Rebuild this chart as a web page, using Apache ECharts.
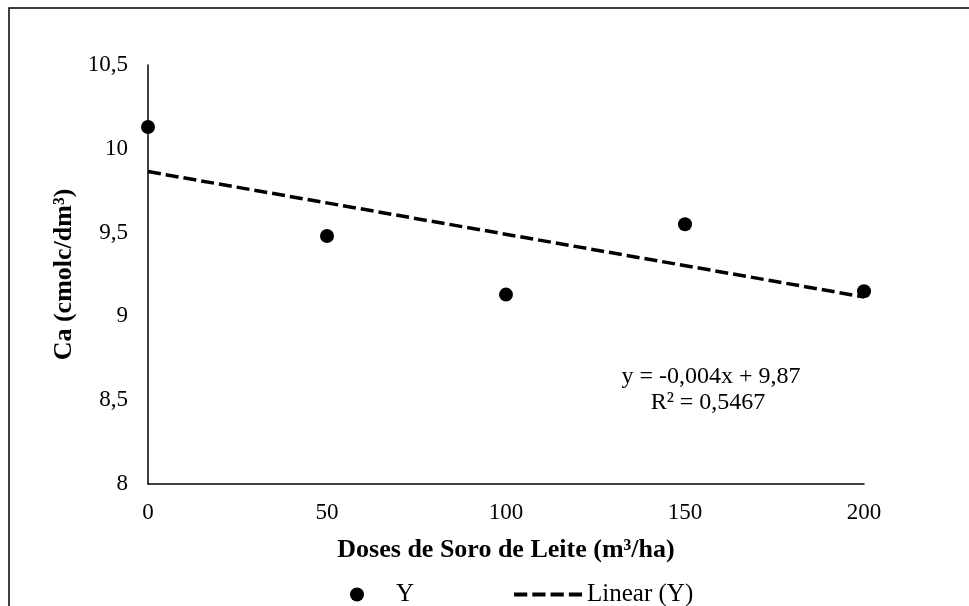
<!DOCTYPE html>
<html>
<head>
<meta charset="utf-8">
<script src="https://cdn.jsdelivr.net/npm/echarts@6/dist/echarts.min.js"></script>
<style>
html,body{margin:0;padding:0;background:#fff;}
#chart{width:969px;height:606px;}
</style>
</head>
<body>
<div id="chart"></div>
<script>
// Data
var doses = [0, 50, 100, 150, 200];
var caValues = [10.13, 9.48, 9.13, 9.55, 9.15];
var trendX = [0, 200];
var trendY = [9.864, 9.116];
var xTicks = [0, 50, 100, 150, 200];
var yTicks = [8, 8.5, 9, 9.5, 10, 10.5];
var equationLines = ['y = -0,004x + 9,87', 'R² = 0,5467'];

var FONT = '"Liberation Serif", "Times New Roman", serif';
var DASH_ICON = 'path://M0,0h13v4h-13z M18,0h13v4h-13z M36,0h13v4h-13z M54,0h13v4h-13z';

var chart = echarts.init(document.getElementById('chart'), null, {renderer: 'canvas'});

var option = {
  animation: false,
  backgroundColor: '#fff',
  grid: {left: 148, top: 65, right: 105, bottom: 122, containLabel: false},
  xAxis: {
    type: 'value',
    min: xTicks[0],
    max: xTicks[xTicks.length - 1],
    interval: 50,
    name: 'Doses de Soro de Leite (m³/ha)',
    nameLocation: 'middle',
    nameGap: 53,
    nameTextStyle: {fontFamily: FONT, fontSize: 26, fontWeight: 'bold', color: '#000'},
    axisLine: {show: true, onZero: false, lineStyle: {color: '#000', width: 1.5}},
    axisTick: {show: false},
    splitLine: {show: false},
    axisLabel: {fontFamily: FONT, fontSize: 23, color: '#000', margin: 17}
  },
  yAxis: {
    type: 'value',
    min: yTicks[0],
    max: yTicks[yTicks.length - 1],
    interval: 0.5,
    name: 'Ca (cmolc/dm³)',
    nameLocation: 'middle',
    nameGap: 71,
    nameRotate: 90,
    nameTextStyle: {fontFamily: FONT, fontSize: 26, fontWeight: 'bold', color: '#000'},
    axisLine: {show: true, onZero: false, lineStyle: {color: '#000', width: 1.5}},
    axisTick: {show: false},
    splitLine: {show: false},
    axisLabel: {
      fontFamily: FONT, fontSize: 23, color: '#000', margin: 20,
      formatter: function (v) { return String(v).replace('.', ','); }
    }
  },
  legend: {
    left: 345,
    top: 577,
    itemWidth: 68,
    itemHeight: 14,
    itemGap: 100,
    symbolKeepAspect: true,
    textStyle: {fontFamily: FONT, fontSize: 25, color: '#000'},
    data: [
      {name: 'Y', icon: 'circle', itemStyle: {color: '#000', opacity: 1}},
      {name: 'Linear (Y)', icon: DASH_ICON, itemStyle: {color: '#000', opacity: 1}}
    ]
  },
  series: [
    {
      name: 'Linear (Y)',
      type: 'line',
      data: trendX.map(function (x, i) { return [x, trendY[i]]; }),
      showSymbol: false,
      symbol: 'none',
      lineStyle: {color: '#000', width: 3.5, type: [13, 5]},
      itemStyle: {color: '#000'},
      z: 2
    },
    {
      name: 'Y',
      type: 'scatter',
      data: doses.map(function (x, i) { return [x, caValues[i]]; }),
      symbol: 'circle',
      symbolSize: 14,
      itemStyle: {color: '#000', opacity: 1},
      z: 3
    }
  ],
  graphic: [
    {
      type: 'rect',
      shape: {x: 9, y: 8, width: 1100, height: 800},
      style: {fill: 'none', stroke: '#000', lineWidth: 1.5},
      silent: true
    },
    {
      type: 'text',
      x: 711, y: 377,
      style: {text: equationLines[0], fontFamily: FONT, fontSize: 24, fill: '#000', align: 'center', verticalAlign: 'middle'}
    },
    {
      type: 'text',
      x: 708, y: 403,
      style: {text: equationLines[1], fontFamily: FONT, fontSize: 24, fill: '#000', align: 'center', verticalAlign: 'middle'}
    }
  ]
};

chart.setOption(option);
</script>
</body>
</html>
